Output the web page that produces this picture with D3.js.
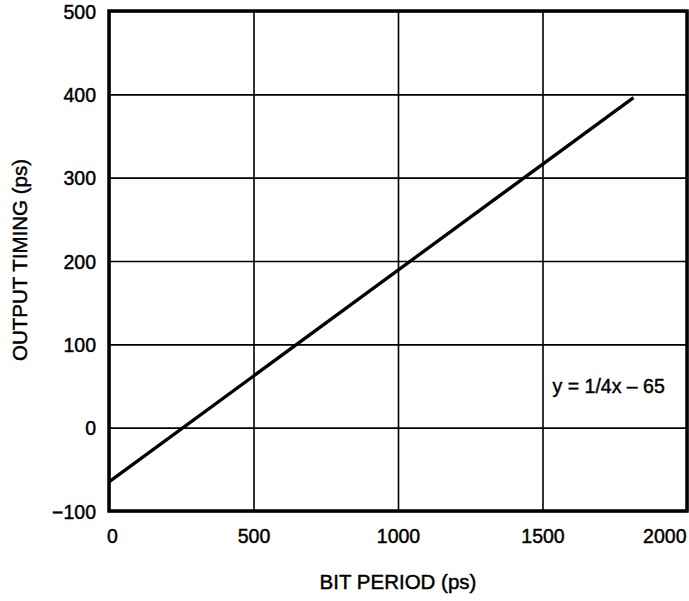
<!DOCTYPE html>
<html>
<head>
<meta charset="utf-8">
<script src="https://cdn.jsdelivr.net/npm/d3@7"></script>
<style>
  body { margin: 0; background: #fff; }
  text { font-family: "Liberation Sans", Arial, Helvetica, sans-serif; fill: #000; stroke: #000; stroke-width: 0.45px; }
</style>
</head>
<body>
<div id="chart"></div>
<script>
const FRAME_WIDTH = 689;
const FRAME_HEIGHT = 601;
const MARGINS = {left: 109, right: 2, top: 11, bottom: 90};

const VIS_WIDTH = FRAME_WIDTH - MARGINS.left - MARGINS.right;
const VIS_HEIGHT = FRAME_HEIGHT - MARGINS.top - MARGINS.bottom;

// data
const X_TICKS = [0, 500, 1000, 1500, 2000];
const Y_TICKS = [-100, 0, 100, 200, 300, 400, 500];
const BIT_PERIOD = [0, 1815];
const OUTPUT_TIMING = [-65, 396];
const X_TITLE = "BIT PERIOD (ps)";
const Y_TITLE = "OUTPUT TIMING (ps)";
const EQUATION = "y = 1/4x \u2013 65";

const SVG = d3.select("#chart")
  .append("svg")
    .attr("width", FRAME_WIDTH)
    .attr("height", FRAME_HEIGHT);

const X_SCALE = d3.scaleLinear()
  .domain([0, 2000])
  .range([0, VIS_WIDTH]);

const Y_SCALE = d3.scaleLinear()
  .domain([-100, 500])
  .range([VIS_HEIGHT, 0]);

const G = SVG.append("g")
  .attr("transform", "translate(" + MARGINS.left + "," + MARGINS.top + ")");

//vertical grid lines
G.append("g")
  .call(d3.axisBottom(X_SCALE).tickValues(X_TICKS).tickSize(VIS_HEIGHT).tickFormat(""))
  .call(g => g.select(".domain").remove())
  .selectAll("line")
    .attr("stroke", "#000")
    .attr("stroke-width", 1.6);

//horizontal grid lines
G.append("g")
  .call(d3.axisRight(Y_SCALE).tickValues(Y_TICKS).tickSize(VIS_WIDTH).tickFormat(""))
  .call(g => g.select(".domain").remove())
  .selectAll("line")
    .attr("stroke", "#000")
    .attr("stroke-width", 1.6);

//frame
G.append("rect")
  .attr("x", 0)
  .attr("y", 0)
  .attr("width", VIS_WIDTH)
  .attr("height", VIS_HEIGHT)
  .attr("fill", "none")
  .attr("stroke", "#000")
  .attr("stroke-width", 3.5);

//x tick labels
const xAxis = G.append("g")
  .attr("transform", "translate(0," + VIS_HEIGHT + ")")
  .call(d3.axisBottom(X_SCALE).tickValues(X_TICKS).tickSize(0).tickPadding(0).tickFormat(d3.format("d")));
xAxis.select(".domain").remove();
xAxis.selectAll("text")
  .attr("y", 32)
  .attr("dy", 0)
  .attr("font-size", "19.5px")
  .attr("font-family", null)
  .attr("text-anchor", d => d === 2000 ? "end" : "middle")
  .attr("x", d => d === 2000 ? -1 : (d === 0 ? 3 : 0));

//y tick labels
const yAxis = G.append("g")
  .call(d3.axisLeft(Y_SCALE).tickValues(Y_TICKS).tickSize(0).tickPadding(0).tickFormat(d => d < 0 ? "\u2212" + Math.abs(d) : d));
yAxis.select(".domain").remove();
yAxis.selectAll("text")
  .attr("x", -13)
  .attr("dy", "0.36em")
  .attr("font-size", "19.5px")
  .attr("font-family", null);

//data line
const line = d3.line()
  .x((d, i) => X_SCALE(BIT_PERIOD[i]))
  .y(d => Y_SCALE(d));

G.append("path")
  .datum(OUTPUT_TIMING)
  .attr("d", line)
  .attr("fill", "none")
  .attr("stroke", "#000")
  .attr("stroke-width", 3.3);

//equation label
G.append("text")
  .attr("x", X_SCALE(1535))
  .attr("y", Y_SCALE(50))
  .attr("dy", "0.35em")
  .attr("font-size", "19.5px")
  .text(EQUATION);

//axis titles
SVG.append("text")
  .attr("x", MARGINS.left + VIS_WIDTH / 2)
  .attr("y", 589)
  .attr("text-anchor", "middle")
  .attr("font-size", "20.5px")
  .text(X_TITLE);

SVG.append("text")
  .attr("transform", "translate(27," + 260 + ") rotate(-90)")
  .attr("text-anchor", "middle")
  .attr("font-size", "20.5px")
  .text(Y_TITLE);
</script>
</body>
</html>
